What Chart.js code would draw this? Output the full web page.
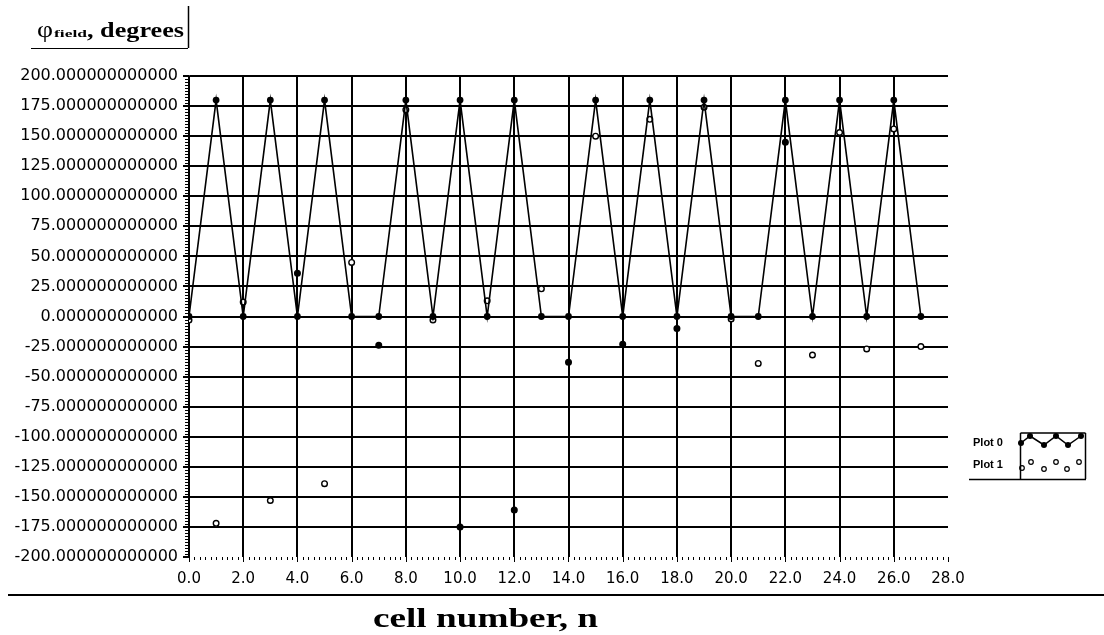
<!DOCTYPE html>
<html>
<head>
<meta charset="utf-8">
<script src="https://cdn.jsdelivr.net/npm/chart.js@4.4.1/dist/chart.umd.min.js"></script>
<style>
  html, body { margin: 0; padding: 0; background: #fff; }
  #wrap { width: 1104px; height: 635px; position: relative; }
</style>
</head>
<body>
<div id="wrap"><canvas id="c" width="1104" height="635"></canvas></div>
<script>
// ---- data ----
const cellNumbers = [0,1,2,3,4,5,6,7,8,9,10,11,12,13,14,15,16,17,18,19,20,21,22,23,24,25,26,27];
const plot0 = [0,180,0,180,0,180,0,0,180,0,180,0,180,0,0,180,0,180,0,180,0,0,180,0,180,0,180,0];
const plot1 = [-3,-172,12,-153,36,-139,45,-24,172,-3,-175,13,-161,23,-38,150,-23,164,-10,174,-2,-39,145,-32,153,-27,156,-25];
const plot1Filled = [4,7,10,12,14,16,18,22];
const seriesNames = ['Plot 0', 'Plot 1'];
const yTitleMain = 'φ';
const yTitleSub = 'field';
const yTitleRest = ', degrees';
const xTitle = 'cell number, n';
const yMin = -200, yMax = 200, yStep = 25;
const xMin = 0, xMax = 28, xStep = 2;

const pts0 = cellNumbers.map((x, i) => ({x, y: plot0[i]}));
const pts1 = cellNumbers.map((x, i) => ({x, y: plot1[i]}));

function drawScaledText(ctx, text, x, baseline, font, targetWidth) {
  ctx.save();
  ctx.font = font;
  const w = ctx.measureText(text).width;
  const s = targetWidth ? targetWidth / w : 1;
  ctx.translate(x, baseline);
  ctx.scale(s, 1);
  ctx.textAlign = 'left';
  ctx.textBaseline = 'alphabetic';
  ctx.fillStyle = '#000';
  ctx.fillText(text, 0, 0);
  ctx.restore();
}

const decor = {
  id: 'decor',
  afterDraw(chart) {
    const ctx = chart.ctx;
    const xs = chart.scales.x, ys = chart.scales.y;
    const area = chart.chartArea;
    ctx.save();
    ctx.strokeStyle = '#000';
    ctx.fillStyle = '#000';
    // minor ticks bottom
    ctx.lineWidth = 1;
    for (let v = xMin; v <= xMax + 1e-9; v += 0.2) {
      const px = Math.round(xs.getPixelForValue(v)) + 0.5;
      const major = Math.abs(v / xStep - Math.round(v / xStep)) < 1e-6;
      ctx.beginPath();
      ctx.moveTo(px, area.bottom);
      ctx.lineTo(px, area.bottom + (major ? 5 : 3));
      ctx.stroke();
    }
    // minor ticks left
    for (let v = yMin; v <= yMax + 1e-9; v += 2.5) {
      const py = Math.round(ys.getPixelForValue(v)) + 0.5;
      ctx.beginPath();
      ctx.moveTo(area.left - 4, py);
      ctx.lineTo(area.left - 1, py);
      ctx.stroke();
    }
    // y title (top-left)
    drawScaledText(ctx, yTitleMain, 37, 37, '24px "Liberation Serif"', 16);
    drawScaledText(ctx, yTitleSub, 54, 37, 'bold 11px "Liberation Serif"', 33);
    drawScaledText(ctx, yTitleRest, 87, 37, 'bold 20px "Liberation Serif"', 97);
    ctx.lineWidth = 1.5;
    ctx.beginPath();
    ctx.moveTo(188.5, 6); ctx.lineTo(188.5, 48);
    ctx.stroke();
    ctx.lineWidth = 1;
    ctx.beginPath();
    ctx.moveTo(31, 48.5); ctx.lineTo(188, 48.5);
    ctx.stroke();
    // bottom rule and x title
    ctx.lineWidth = 2;
    ctx.beginPath();
    ctx.moveTo(8, 595); ctx.lineTo(1104, 595);
    ctx.stroke();
    drawScaledText(ctx, xTitle, 373, 627, 'bold 28px "Liberation Serif"', 225);
    // legend
    ctx.font = 'bold 11px "Liberation Sans"';
    ctx.textBaseline = 'middle';
    ctx.textAlign = 'left';
    ctx.fillText(seriesNames[0], 973, 443);
    ctx.fillText(seriesNames[1], 973, 465);
    ctx.lineWidth = 1.5;
    ctx.beginPath();
    ctx.moveTo(1020.5, 433); ctx.lineTo(1085.5, 433);
    ctx.moveTo(1020.5, 433); ctx.lineTo(1020.5, 479);
    ctx.moveTo(1085.5, 433); ctx.lineTo(1085.5, 479);
    ctx.moveTo(969, 479.5); ctx.lineTo(1086, 479.5);
    ctx.stroke();
    const lz = [[1021,443],[1030,436],[1044,445],[1056,436],[1068,445],[1081,436]];
    ctx.lineWidth = 1.5;
    ctx.beginPath();
    lz.forEach((p, i) => i ? ctx.lineTo(p[0], p[1]) : ctx.moveTo(p[0], p[1]));
    ctx.stroke();
    lz.forEach(p => { ctx.beginPath(); ctx.arc(p[0], p[1], 3, 0, Math.PI * 2); ctx.fill(); });
    const lp = [[1022,468],[1031,462],[1044,469],[1056,462],[1067,469],[1079,462]];
    ctx.lineWidth = 1.2;
    lp.forEach(p => { ctx.beginPath(); ctx.arc(p[0], p[1], 2.3, 0, Math.PI * 2); ctx.stroke(); });
    ctx.restore();
  }
};

new Chart(document.getElementById('c'), {
  type: 'scatter',
  data: {
    datasets: [
      {
        label: seriesNames[0],
        data: pts0,
        showLine: true,
        borderColor: '#000',
        borderWidth: 1.6,
        backgroundColor: '#000',
        pointRadius: 3.4,
        pointBorderWidth: 0,
        pointBackgroundColor: '#000',
        tension: 0
      },
      {
        label: seriesNames[1],
        data: pts1,
        showLine: false,
        borderColor: '#000',
        pointRadius: 2.8,
        pointBorderWidth: 1.4,
        pointBorderColor: '#000',
        pointBackgroundColor: ctx => plot1Filled.includes(ctx.dataIndex) ? '#000' : '#fff'
      }
    ]
  },
  options: {
    responsive: false,
    animation: false,
    devicePixelRatio: 1,
    layout: { padding: { left: 0, top: 76, right: 156, bottom: 0 } },
    plugins: { legend: { display: false }, tooltip: { enabled: false }, title: { display: false } },
    scales: {
      x: {
        type: 'linear',
        min: xMin, max: xMax,
        afterFit: s => { s.height = 78; },
        afterBuildTicks: s => { s.ticks = []; for (let v = xMin; v <= xMax; v += xStep) s.ticks.push({value: v}); },
        ticks: {
          stepSize: xStep,
          color: '#000',
          font: { family: '"DejaVu Sans"', size: 15 },
          padding: 9,
          maxRotation: 0,
          callback: v => Number(v).toFixed(1)
        },
        border: { display: false },
        grid: {
          color: ctx => (ctx.tick && ctx.tick.value === xMax) ? 'rgba(0,0,0,0)' : '#000',
          lineWidth: 2,
          drawTicks: true,
          tickLength: 4,
          tickColor: 'rgba(0,0,0,0)'
        }
      },
      y: {
        min: yMin, max: yMax,
        afterFit: s => { s.width = 189; },
        afterBuildTicks: s => { s.ticks = []; for (let v = yMin; v <= yMax; v += yStep) s.ticks.push({value: v}); },
        ticks: {
          stepSize: yStep,
          color: '#000',
          font: { family: '"DejaVu Sans"', size: 16 },
          padding: 5,
          callback: v => Number(v).toFixed(12)
        },
        border: { display: true, color: '#000', width: 1.5 },
        grid: {
          color: ctx => (ctx.tick && ctx.tick.value === yMin) ? 'rgba(0,0,0,0)' : '#000',
          lineWidth: 2,
          drawTicks: true,
          tickLength: 6,
          tickColor: '#000'
        }
      }
    }
  },
  plugins: [decor]
});
</script>
</body>
</html>
